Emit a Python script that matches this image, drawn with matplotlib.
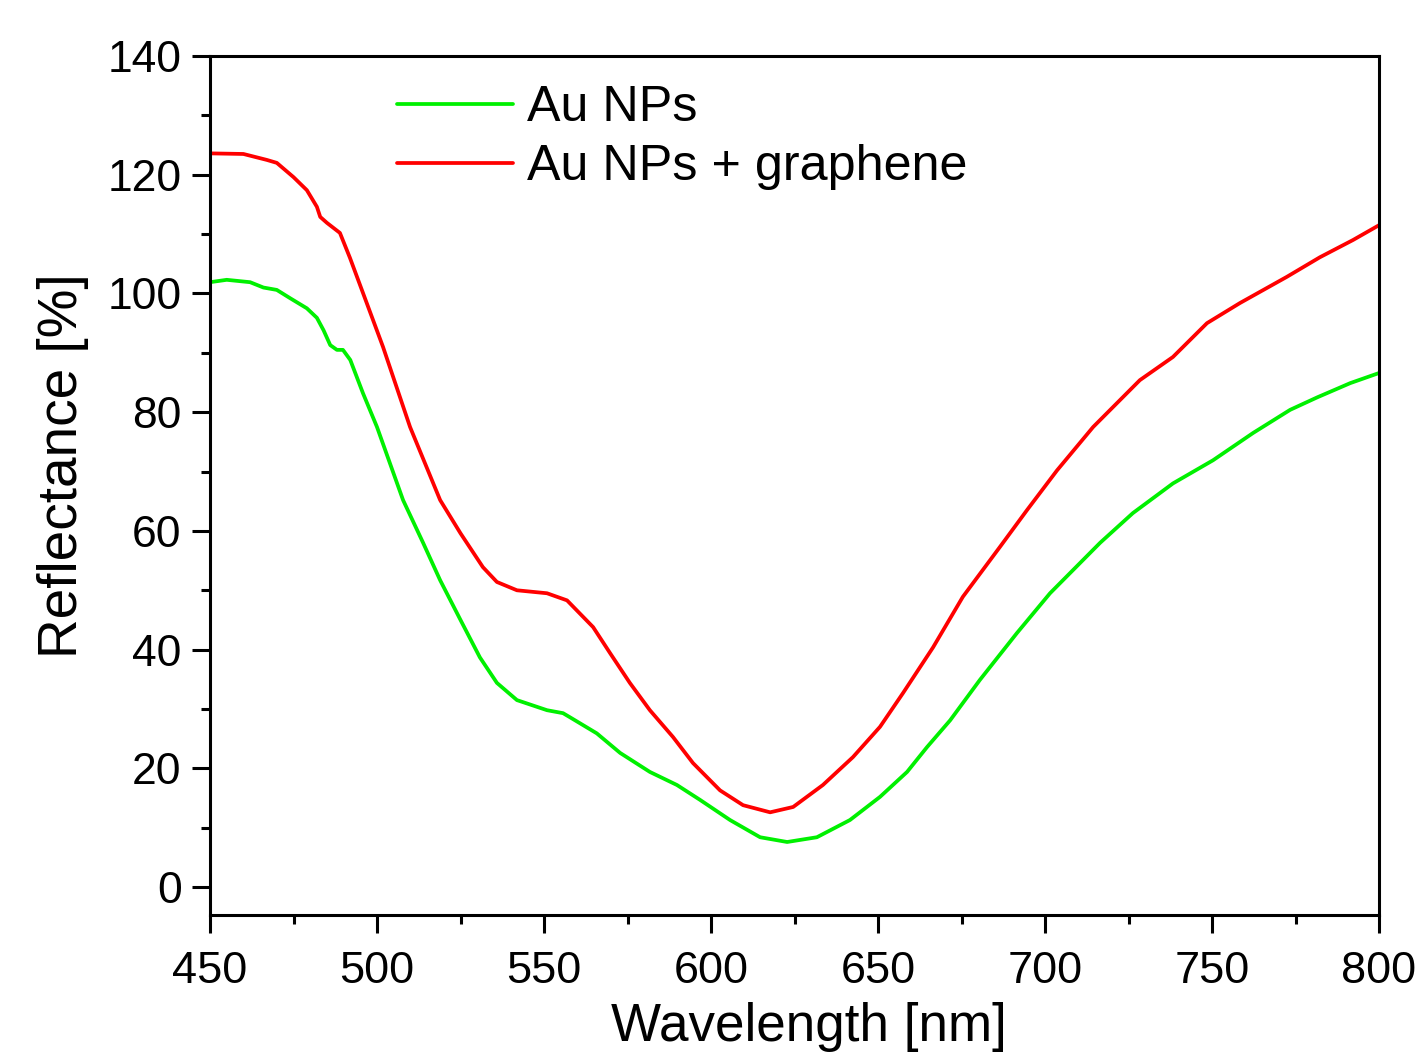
import matplotlib
matplotlib.use("Agg")
import matplotlib.pyplot as plt
from matplotlib.ticker import MultipleLocator

plt.rcParams['font.family'] = ['Liberation Sans', 'DejaVu Sans']

wl_green = [450, 455, 462, 466, 470, 474, 479, 482, 484, 486, 488, 489.8, 492, 495.8, 500,
            507.8, 513.8, 518.9, 525, 530.8, 535.9, 541.9, 550.9, 555.7, 557.8, 565.8, 572.8,
            581.7, 589.8, 596.7, 605.7, 614.7, 622.8, 631.7, 641.6, 650.6, 658.7, 664.7, 671.6,
            680.5, 691.6, 701.5, 716.5, 726.3, 738.3, 750.3, 762.3, 773.4, 781.5, 791.4, 800]
r_green = [101.9, 102.3, 101.9, 101.0, 100.6, 99.2, 97.5, 95.9, 93.8, 91.3, 90.5, 90.5, 88.8, 83.2, 77.5,
           65.2, 58.0, 51.7, 45.0, 38.7, 34.4, 31.5, 29.8, 29.3, 28.6, 25.9, 22.6,
           19.4, 17.2, 14.7, 11.3, 8.4, 7.6, 8.4, 11.3, 15.2, 19.4, 23.6, 28.1,
           34.9, 42.8, 49.5, 58.0, 63.0, 68.0, 71.9, 76.5, 80.4, 82.5, 84.9, 86.6]

wl_red = [450, 460, 467, 470, 475, 479, 482, 483, 485, 488.9, 491.9, 501.8, 509.9, 518.9, 525,
          531.7, 535.9, 541.9, 550.9, 556.9, 564.7, 569.8, 575.7, 581.7, 588.6, 594.6, 602.7,
          609.6, 617.7, 624.6, 633.5, 642.5, 650.6, 657.5, 666.5, 675.4, 686.5, 694.6, 703.6,
          714.4, 728.4, 738.3, 748.5, 758.4, 772.4, 782.3, 792.2, 800]
r_red = [123.6, 123.5, 122.5, 122.0, 119.6, 117.4, 114.6, 112.9, 111.9, 110.2, 106.0, 91.0, 77.5, 65.2, 59.6,
         53.9, 51.4, 50.0, 49.5, 48.3, 43.8, 39.4, 34.4, 29.8, 25.3, 20.9, 16.3,
         13.8, 12.6, 13.5, 17.2, 21.9, 27.0, 32.7, 40.4, 48.9, 57.3, 63.5, 70.2,
         77.5, 85.4, 89.3, 95.0, 98.4, 102.8, 106.1, 109.0, 111.5]

labels = ["Au NPs", "Au NPs + graphene"]

fig = plt.figure(figsize=(14.18, 10.61), dpi=100)
ax = fig.add_axes([0.1481, 0.1376, 0.9725 - 0.1481, 0.9472 - 0.1376])

ax.plot(wl_green, r_green, color='#00f000', lw=2.7, label=labels[0],
        solid_joinstyle='round', solid_capstyle='round')
ax.plot(wl_red, r_red, color='#ff0000', lw=2.7, label=labels[1],
        solid_joinstyle='round', solid_capstyle='round')

ax.set_xlim(450, 800)
ax.set_ylim(-4.7, 140)
ax.xaxis.set_major_locator(MultipleLocator(50))
ax.xaxis.set_minor_locator(MultipleLocator(25))
ax.yaxis.set_major_locator(MultipleLocator(20))
ax.yaxis.set_minor_locator(MultipleLocator(10))

for s in ax.spines.values():
    s.set_linewidth(2.2)
ax.tick_params(which='major', direction='out', length=13, width=2.2)
ax.tick_params(which='minor', direction='out', length=6.5, width=2.2)
ax.tick_params(axis='x', which='major', labelsize=32.5, pad=13)
ax.tick_params(axis='y', which='major', labelsize=32, pad=7.5)
ax.tick_params(top=False, right=False)

ax.set_xlabel("Wavelength [nm]", fontsize=38.2)
ax.xaxis.set_label_coords(0.512, -0.101)
ax.set_ylabel("Reflectance [%]", fontsize=39.5)
ax.yaxis.set_label_coords(-0.1031, 0.5227)

leg = ax.legend(loc='upper left', bbox_to_anchor=(0.16, 0.966), frameon=False, fontsize=36.2,
                handlelength=2.31, handletextpad=0.28, labelspacing=0.26,
                borderpad=0, borderaxespad=0)

fig.savefig("out.png", dpi=100)
